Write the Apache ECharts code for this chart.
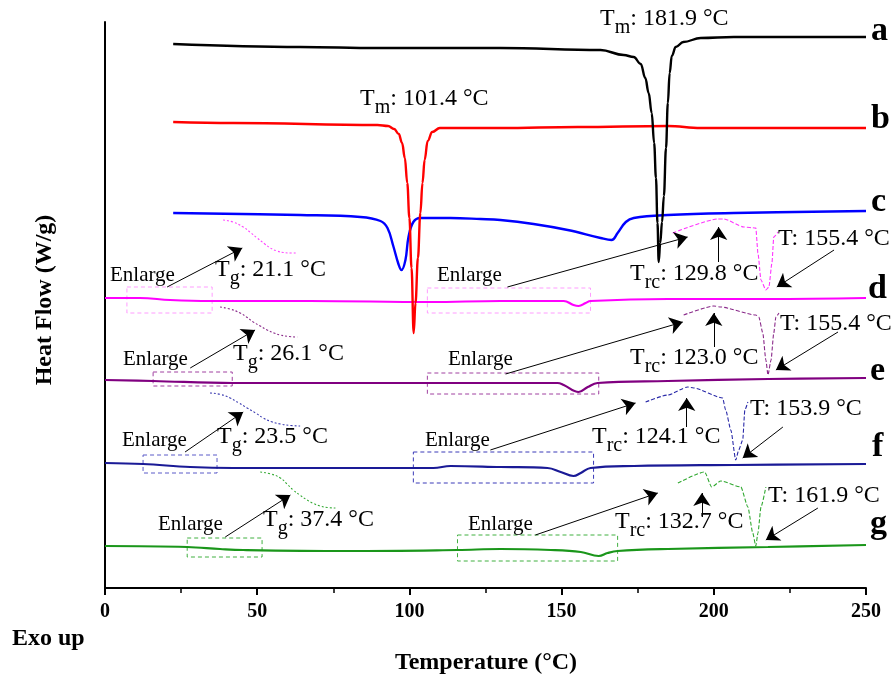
<!DOCTYPE html>
<html>
<head>
<meta charset="utf-8">
<script src="https://cdn.jsdelivr.net/npm/echarts@6/dist/echarts.min.js"></script>
<style>
html, body { margin: 0; padding: 0; background: #fff; }
#chart { width: 894px; height: 677px; }
</style>
</head>
<body>
<div id="chart"></div>
<script>
// DSC heating curves, offset vertically (arbitrary heat-flow units, exo up)
const tickTemps = [0, 50, 100, 150, 200, 250];

// a
const tA = [22.4, 64.1, 89.5, 129.9, 162.8, 170.4, 173.7, 176.0, 177.5, 178.6, 179.6, 180.4, 181.0, 181.5, 181.9, 182.4, 183.0, 183.6, 184.3, 184.9, 185.5, 186.2, 187.5, 190.0, 195.7, 206.6, 250];
const hA = [544, 541, 540, 540, 538, 533, 531, 524, 510, 495, 475, 445, 410, 365, 326, 345, 366, 392, 440, 485, 515, 532, 541, 546, 550, 551, 551];
// b
const tB = [22.4, 42.1, 89.5, 93.0, 95.0, 96.5, 97.6, 98.5, 99.3, 100.0, 100.7, 101.4, 102.0, 102.8, 103.6, 104.3, 105.0, 106.0, 107.5, 110.0, 129.9, 155.3, 184.9, 195.7, 250];
const hB = [466, 465, 463, 462, 459, 454, 445, 430, 405, 370, 320, 255, 285, 330, 375, 405, 428, 447, 456, 460, 460, 461, 462, 460, 460];
// c
const tC = [22.4, 64.1, 83.9, 90.5, 92.8, 94.7, 96.4, 97.4, 98.7, 99.7, 101.3, 103.6, 113.5, 123.4, 129.9, 140.8, 152.0, 162.8, 166.4, 168.4, 171.1, 173.7, 184.9, 206.6, 250];
const hC = [375, 373, 371, 367, 360, 342, 324, 318, 328, 351, 366, 370, 370, 369, 368, 364, 358, 350, 348, 355, 366, 370, 373, 375, 377];
// d
const tD = [0, 11.5, 21.4, 34.5, 67.4, 106.9, 129.9, 150.7, 153.9, 155.6, 157.9, 159.5, 184.9, 217.8, 250];
const hD = [290, 290, 288, 287, 287, 286, 287, 287, 283, 282, 285, 287, 289, 289, 290];
// e
const tE = [0, 15.8, 42.1, 75.0, 129.9, 148.7, 150.7, 155.6, 158.6, 161.8, 184.9, 217.8, 250];
const hE = [208, 207, 205, 205, 205, 205, 203, 196, 201, 205, 207, 209, 210];
// f
const tF = [0, 12.5, 28.0, 42.1, 107.9, 113.5, 129.9, 145.4, 149.7, 153.9, 156.3, 159.5, 173.7, 206.6, 250];
const hF = [125, 124, 121, 120, 120, 122, 121, 120, 116, 112, 115, 120, 122, 123, 124];
// g
const tG = [0, 27.0, 37.8, 45.4, 79.6, 115.8, 129.9, 146.4, 156.3, 162.2, 165.1, 168.4, 184.9, 217.8, 250];
const hG = [42, 41, 39, 38, 37, 38, 39, 38, 36, 32, 35, 37, 39, 41, 43];

// enlarged glass-transition steps
const tDg = [38.8, 42.0, 45.4, 48.0, 50.0, 52.5, 54.3, 56.5, 58.6, 61.0, 63.2];
const hDg = [368, 366, 361, 355, 350, 344, 340, 337, 335.5, 335, 335];
const tEg = [37.8, 41.0, 44.4, 46.5, 48.7, 51.0, 53.3, 55.5, 57.6, 60.5, 63.2];
const hEg = [281, 279, 275, 271, 266, 262, 258, 255, 253, 251.5, 251];
const tFg = [34.5, 38.0, 41.1, 44.0, 46.7, 49.5, 52.0, 55.0, 57.6, 61.0, 64.1];
const hFg = [195, 193.5, 190, 185, 180, 175, 170, 166, 164, 162.5, 162];
const tGg = [51.0, 54.5, 57.6, 59.8, 61.8, 64.0, 66.4, 68.5, 70.7, 73.0, 75.7];
const hGg = [116, 114, 110, 104, 98, 93, 88, 84.5, 82, 80.5, 80];

// enlarged recrystallization / melting regions
const tDrc = [186.5, 201.3, 203.3, 209.9, 213.8, 214.5, 215.5, 217.1, 218.1, 219.1, 219.7, 221.1];
const hDrc = [355, 369, 369, 361, 360, 335, 308, 298, 301, 325, 351, 356];
const tErc = [190.1, 200.0, 202.3, 213.8, 214.8, 216.1, 217.1, 217.8, 218.8, 219.7, 220.4, 221.4];
const hErc = [273, 282, 281, 273, 271, 255, 228, 213, 228, 255, 271, 275];
const tFrc = [177.6, 184.9, 191.4, 193.4, 202.9, 203.9, 205.6, 207.2, 208.2, 209.5, 210.2, 211.2];
const hFrc = [186, 193, 201, 200, 190, 178, 158, 128, 138, 148, 178, 186];
const tGrc = [188.2, 197.0, 199.3, 202.3, 208.9, 211.2, 212.8, 213.8, 214.5, 215.5, 217.1];
const hGrc = [105, 116, 101, 107, 101, 81, 55, 42, 55, 81, 101];

// "Enlarge" frames: [t1, h1, t2, h2]
const boxDg = [7.2, 301, 35.2, 275];
const boxDrc = [105.9, 300, 159.5, 275];
const boxEg = [15.8, 216, 41.8, 202];
const boxErc = [105.9, 215, 162.2, 194];
const boxFg = [12.5, 133, 36.8, 115];
const boxFrc = [101.3, 136, 160.5, 105];
const boxGg = [27.0, 50, 51.6, 31];
const boxGrc = [115.8, 53, 168.4, 27];

// pointer arrows: [t1, h1, t2, h2]
const enlargeArrows = [
  [20.4, 301, 45.1, 340], [132.2, 301, 191.4, 351],
  [28.0, 220, 49.3, 258], [131.6, 214, 189.8, 266],
  [26.3, 136, 45.4, 176], [126.6, 138, 174.3, 185],
  [39.5, 51, 60.9, 93], [141.4, 53, 181.6, 95]
];
const peakArrows = [
  [201.6, 326, 201.6, 361], [200.0, 241, 200.0, 275],
  [191.1, 161, 191.1, 190], [196.1, 71, 196.1, 95]
];
const meltArrows = [
  [239.5, 338, 220.7, 301], [240.8, 256, 220.4, 218],
  [222.7, 161, 209.5, 130], [234.2, 80, 217.1, 48]
];

const FONT = '"Liberation Serif", "Times New Roman", Times, serif';

const pairs = (ts, hs) => ts.map((t, i) => [t, hs[i]]);

function curve(ts, hs, color, width, type, smooth, z, monotone) {
  const s = {
    type: 'line', data: pairs(ts, hs), symbol: 'none', showSymbol: false,
    smooth: smooth, silent: true, z: z,
    lineStyle: { color: color, width: width, type: type }
  };
  if (monotone) s.smoothMonotone = 'x';
  return s;
}

function frame(b, color) {
  const pts = [[b[0], b[1]], [b[2], b[1]], [b[2], b[3]], [b[0], b[3]], [b[0], b[1]]];
  return {
    type: 'line', data: pts, symbol: 'none', showSymbol: false, silent: true, z: 3,
    lineStyle: { color: color, width: 1, type: [4, 3] }
  };
}

const allArrows = enlargeArrows.concat(peakArrows, meltArrows)
  .map(a => ({ coords: [[a[0], a[1]], [a[2], a[3]]] }));

const C = {
  a: '#000000', b: '#ff0000', c: '#0000ff', d: '#ff00ff',
  e: '#800080', f: '#1a1a96', g: '#1a961a'
};

const series = [
  curve(tG, hG, C.g, 2.2, 'solid', 0.4, 4),
  curve(tF, hF, C.f, 2.2, 'solid', 0.4, 4),
  curve(tE, hE, C.e, 2.2, 'solid', 0.4, 4),
  curve(tD, hD, C.d, 2.2, 'solid', 0.4, 4),
  curve(tC, hC, C.c, 2.4, 'solid', 0.4, 4),
  curve(tDg, hDg, '#ff44ff', 1.1, [2, 2], 0.5, 3),
  curve(tEg, hEg, '#8a2a8a', 1.1, [2, 2], 0.5, 3),
  curve(tFg, hFg, '#3a3ab0', 1.1, [2, 2], 0.5, 3),
  curve(tGg, hGg, '#30a830', 1.1, [2, 2], 0.5, 3),
  curve(tDrc, hDrc, '#ff33ff', 1.1, [4, 2], 0.2, 3, true),
  curve(tErc, hErc, '#8a2a8a', 1.1, [4, 2], 0.2, 3, true),
  curve(tFrc, hFrc, '#2a2aa8', 1.1, [4, 2], 0.2, 3, true),
  curve(tGrc, hGrc, '#30a830', 1.1, [4, 2], 0.2, 3, true),
  frame(boxDg, '#ff9cff'), frame(boxDrc, '#ff9cff'),
  frame(boxEg, '#a040a0'), frame(boxErc, '#a040a0'),
  frame(boxFg, '#5a5ac8'), frame(boxFrc, '#3a3ab8'),
  frame(boxGg, '#40b040'), frame(boxGrc, '#40b040'),
  curve(tB, hB, C.b, 2.4, 'solid', 0.4, 5, true),
  curve(tA, hA, C.a, 2.4, 'solid', 0.4, 6, true),
  {
    type: 'lines', coordinateSystem: 'cartesian2d', silent: true, z: 7,
    symbol: ['none', 'arrow'], symbolSize: [8, 13],
    lineStyle: { color: '#000', width: 1, opacity: 1, curveness: 0 },
    data: allArrows
  }
];

// annotation text, with subscripts done through rich text
function subLabel(x, capTop, main, sub, rest) {
  return {
    type: 'text', x: x, y: capTop - 10.4, silent: true, z: 10,
    style: {
      text: '{t|' + main + '}{s|' + sub + '}{t|' + rest + '}',
      align: 'left', verticalAlign: 'top',
      rich: {
        t: { fontFamily: FONT, fontSize: 24, lineHeight: 24, fill: '#000' },
        s: { fontFamily: FONT, fontSize: 20, lineHeight: 20, padding: [18, 0, 0, 0], fill: '#000' }
      }
    }
  };
}
function plain(x, capTop, txt, size, bold) {
  return {
    type: 'text', x: x, y: capTop - 0.143 * size, silent: true, z: 10,
    style: {
      text: txt, fontFamily: FONT, fontSize: size, fontWeight: bold ? 'bold' : 'normal',
      fill: '#000', align: 'left', verticalAlign: 'top'
    }
  };
}
function tag(x, baseline, txt) {
  return {
    type: 'text', x: x, y: baseline - 0.805 * 34, silent: true, z: 10,
    style: { text: txt, fontFamily: FONT, fontSize: 34, fontWeight: 'bold', fill: '#000', align: 'left', verticalAlign: 'top' }
  };
}

const graphics = [
  subLabel(600, 17, 'T', 'm', ': 181.9 °C'),
  subLabel(360, 97, 'T', 'm', ': 101.4 °C'),
  subLabel(215, 268, 'T', 'g', ': 21.1 °C'),
  subLabel(233, 352, 'T', 'g', ': 26.1 °C'),
  subLabel(217, 435, 'T', 'g', ': 23.5 °C'),
  subLabel(263, 518, 'T', 'g', ': 37.4 °C'),
  subLabel(630, 272, 'T', 'rc', ': 129.8 °C'),
  subLabel(630, 356, 'T', 'rc', ': 123.0 °C'),
  subLabel(592, 435, 'T', 'rc', ': 124.1 °C'),
  subLabel(615, 520, 'T', 'rc', ': 132.7 °C'),
  plain(778, 230, 'T: 155.4 °C', 24),
  plain(780, 315, 'T: 155.4 °C', 24),
  plain(750, 400, 'T: 153.9 °C', 24),
  plain(768, 487, 'T: 161.9 °C', 24),
  plain(110, 268, 'Enlarge', 21), plain(437, 268, 'Enlarge', 21),
  plain(123, 352, 'Enlarge', 21), plain(448, 352, 'Enlarge', 21),
  plain(122, 433, 'Enlarge', 21), plain(425, 433, 'Enlarge', 21),
  plain(158, 517, 'Enlarge', 21), plain(468, 517, 'Enlarge', 21),
  tag(871, 42, 'a'), tag(871, 130, 'b'), tag(871, 213, 'c'), tag(868, 300, 'd'),
  tag(870, 382, 'e'), tag(872, 458, 'f'), tag(870, 535, 'g'),
  plain(12, 630, 'Exo up', 24, true),
  {
    type: 'text', x: 486, y: 663, silent: true,
    style: { text: 'Temperature (°C)', fontFamily: FONT, fontSize: 24, fontWeight: 'bold', fill: '#000', align: 'center', verticalAlign: 'middle' }
  },
  {
    type: 'text', x: 45, y: 300, rotation: Math.PI / 2, silent: true,
    style: { text: 'Heat Flow (W/g)', fontFamily: FONT, fontSize: 24, fontWeight: 'bold', fill: '#000', align: 'center', verticalAlign: 'middle' }
  }
];

const chart = echarts.init(document.getElementById('chart'), null, { renderer: 'canvas' });
chart.setOption({
  animation: false,
  backgroundColor: '#fff',
  grid: { left: 105, right: 28, top: 22, bottom: 89, containLabel: false },
  xAxis: {
    type: 'value',
    min: tickTemps[0], max: tickTemps[tickTemps.length - 1], interval: tickTemps[1] - tickTemps[0],
    axisLine: { show: true, onZero: false, lineStyle: { color: '#000', width: 2 } },
    axisTick: { show: true, inside: false, length: 7, lineStyle: { color: '#000', width: 2 } },
    minorTick: { show: true, splitNumber: 2, length: 5, lineStyle: { color: '#000', width: 1.5 } },
    axisLabel: { color: '#000', fontFamily: FONT, fontSize: 20, fontWeight: 'bold', margin: 14 },
    splitLine: { show: false }
  },
  yAxis: {
    type: 'value', min: 0, max: 566,
    axisLine: { show: true, onZero: false, lineStyle: { color: '#000', width: 2 } },
    axisTick: { show: false }, axisLabel: { show: false }, splitLine: { show: false }
  },
  series: series,
  graphic: graphics
});
</script>
</body>
</html>
